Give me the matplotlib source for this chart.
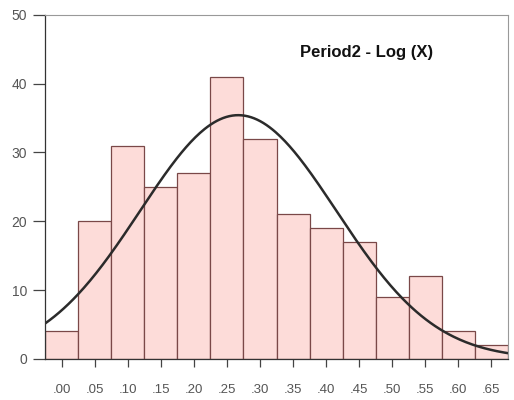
import numpy as np
import matplotlib
matplotlib.use("Agg")
import matplotlib.pyplot as plt

plt.rcParams["font.family"] = ["Liberation Sans", "DejaVu Sans"]

# bin centres and counts
bin_centers = [0.00, 0.05, 0.10, 0.15, 0.20, 0.25, 0.30, 0.35, 0.40, 0.45, 0.50, 0.55, 0.60, 0.65]
counts = [4, 20, 31, 25, 27, 41, 32, 21, 19, 17, 9, 12, 4, 2]
tick_labels = [".00", ".05", ".10", ".15", ".20", ".25", ".30", ".35", ".40", ".45",
               ".50", ".55", ".60", ".65"]
y_ticks = [0, 10, 20, 30, 40, 50]
title = "Period2 - Log (X)"

bin_w = 0.05
centers = np.array(bin_centers)
cnt = np.array(counts, dtype=float)

# normal curve fitted to the binned data
n = cnt.sum()
mu = (centers * cnt).sum() / n
sd = np.sqrt(((centers - mu) ** 2 * cnt).sum() / n)
xs = np.linspace(centers[0] - bin_w / 2, centers[-1] + bin_w / 2, 300)
ys = n * bin_w / (sd * np.sqrt(2 * np.pi)) * np.exp(-((xs - mu) ** 2) / (2 * sd ** 2))

fig = plt.figure(figsize=(5.14, 4.0), dpi=100)
ax = fig.add_axes([0.088, 0.103, 0.9, 0.86])

ax.bar(centers, cnt, width=bin_w, color="#fddcd9", edgecolor="#7a4848", linewidth=0.9)
ax.plot(xs, ys, color="#2b2b2b", linewidth=1.8)

ax.set_xlim(centers[0] - bin_w / 2, centers[-1] + bin_w / 2)
ax.set_ylim(0, 50)
ax.set_xticks(centers)
ax.set_xticklabels(tick_labels)
ax.set_yticks(y_ticks)

ax.tick_params(axis="x", length=6, width=0.9, color="#444", pad=12, labelsize=9.5, labelcolor="#555")
ax.tick_params(axis="y", length=9, width=0.9, color="#444", pad=4, labelsize=10, labelcolor="#555")

for side in ["left", "bottom"]:
    ax.spines[side].set_color("#333")
    ax.spines[side].set_linewidth(0.9)
for side in ["top", "right"]:
    ax.spines[side].set_color("#999")
    ax.spines[side].set_linewidth(0.8)

ax.text(0.695, 0.89, title, transform=ax.transAxes, ha="center", va="center",
        fontsize=12, fontweight="bold", color="#111")

fig.savefig("out.png", dpi=100)
